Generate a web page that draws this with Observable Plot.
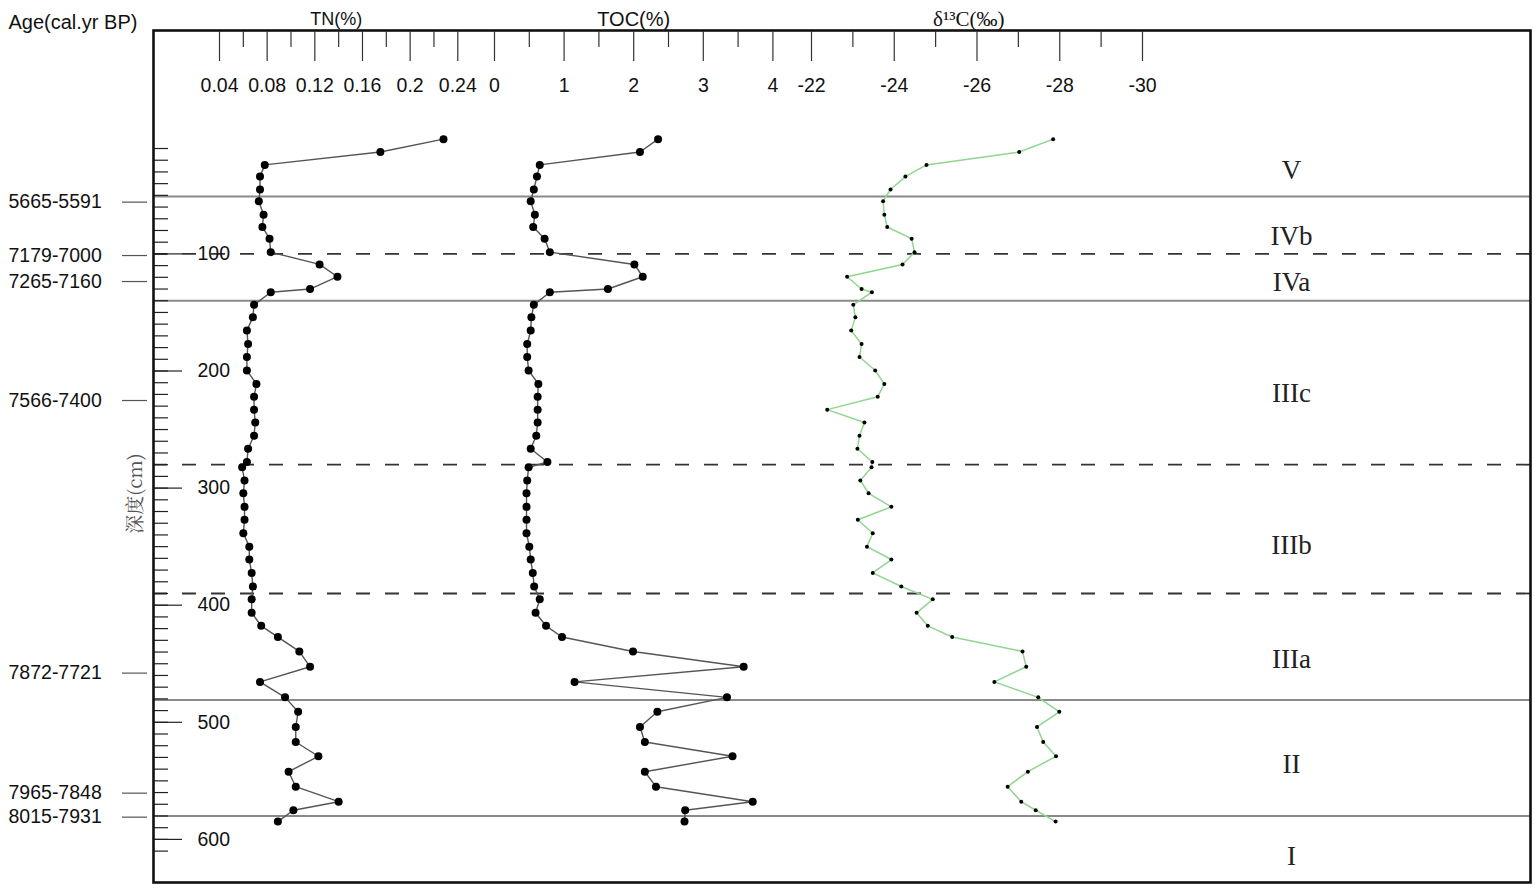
<!DOCTYPE html>
<html>
<head>
<meta charset="utf-8">
<script src="https://cdn.jsdelivr.net/npm/d3@7"></script>
<script src="https://cdn.jsdelivr.net/npm/@observablehq/plot@0.6"></script>
<style>
  html, body { margin: 0; padding: 0; background: #fff; }
  #chart { position: relative; width: 1535px; height: 891px; }
  #chart svg { position: absolute; left: 0; top: 0; overflow: visible; }
</style>
</head>
<body>
<div id="chart"></div>
<script>
// ---------- data ----------
const depth = [2,13,24,34,45,55,66.5,77,87,98.5,109,119.5,130,132.7,143.5,154,165.5,177,188,199.6,211,222,233,244,255.3,266.4,277.7,282.3,293.5,304.5,316,327,338.5,350,361,372.4,384,395,406.5,417.6,427.2,439.5,452.6,465.5,478.7,491,504,516.8,529,542.2,555,567.8,575.1,584.8];
const tn = [0.228,0.175,0.078,0.074,0.074,0.073,0.077,0.076,0.082,0.083,0.124,0.139,0.116,0.083,0.069,0.068,0.063,0.064,0.063,0.063,0.071,0.069,0.069,0.070,0.069,0.064,0.063,0.059,0.061,0.060,0.061,0.061,0.060,0.065,0.065,0.067,0.068,0.067,0.067,0.075,0.089,0.107,0.116,0.074,0.095,0.106,0.104,0.104,0.123,0.098,0.104,0.140,0.102,0.089];
const toc = [2.35,2.09,0.65,0.61,0.565,0.52,0.58,0.556,0.72,0.795,2.01,2.13,1.63,0.795,0.565,0.53,0.52,0.47,0.47,0.49,0.63,0.62,0.62,0.62,0.60,0.52,0.76,0.49,0.47,0.46,0.46,0.46,0.46,0.50,0.52,0.55,0.57,0.65,0.59,0.74,0.97,1.99,3.58,1.15,3.34,2.34,2.09,2.16,3.42,2.16,2.32,3.71,2.74,2.73];
const d13c = [-27.84,-27.02,-24.78,-24.27,-23.91,-23.73,-23.76,-23.83,-24.42,-24.49,-24.20,-22.86,-23.21,-23.46,-23.01,-23.06,-22.96,-23.21,-23.16,-23.54,-23.76,-23.60,-22.38,-23.28,-23.16,-23.11,-23.47,-23.45,-23.18,-23.38,-23.93,-23.12,-23.48,-23.34,-23.93,-23.48,-24.17,-24.93,-24.54,-24.81,-25.40,-27.10,-27.19,-26.42,-27.48,-27.99,-27.45,-27.60,-27.91,-27.23,-26.74,-27.07,-27.42,-27.90];

const tnTicks = [0.04,0.08,0.12,0.16,0.2,0.24];
const tnMinor = [0.06,0.10,0.14,0.18,0.22];
const tocTicks = [0,1,2,3,4];
const tocMinor = [0.5,1.5,2.5,3.5];
const d13cTicks = [-22,-24,-26,-28,-30];
const d13cMinor = [-23,-25,-27,-29];

const depthLabels = [100,200,300,400,500,600];
const depthMinor = d3.range(10, 620, 10);

const ageLabels = ["5665-5591","7179-7000","7265-7160","7566-7400","7872-7721","7965-7848","8015-7931"];
const ageDepths = [55.8,101.4,123.6,225.2,458,560.5,581];

const boundaryDepths = [51,100,140,280,390,481,580];
const boundaryTypes = ["solid","dashed","solid","dashed","dashed","solid","solid"];

const zoneLabels = ["V","IVb","IVa","IIIc","IIIb","IIIa","II","I"];
const zoneDepths = [28.8,85.1,124.4,219.2,349,446.4,536,614.6];

// ---------- tables ----------
const rows = depth.map((d, i) => ({depth: d, tn: tn[i], toc: toc[i], d13c: d13c[i]}));
const ages = ageLabels.map((l, i) => ({label: l, depth: ageDepths[i]}));
const bounds = boundaryDepths.map((d, i) => ({depth: d, type: boundaryTypes[i]}));
const zones = zoneLabels.map((l, i) => ({label: l, depth: zoneDepths[i]}));

// ---------- layout ----------
const W = 1535, H = 891;
const layout = {width: W, height: H, marginTop: 30, marginLeft: 153, marginRight: 5, marginBottom: 9};
const yScale = {domain: [0, 600], range: [136.3, 838.9]};
const sans = "Liberation Sans, Arial, sans-serif";
const serif = "Liberation Serif, Times New Roman, serif";
const root = document.getElementById("chart");

function add(p) { root.appendChild(p); }

// base: frame, boundaries, depth axis, ages, zones
add(Plot.plot({
  ...layout,
  y: yScale,
  style: {background: "transparent", fontFamily: sans, color: "#111", overflow: "visible"},
  marks: [
    Plot.ruleY(bounds.filter(b => b.type === "solid"), {y: "depth", stroke: "#8a8a8a", strokeWidth: 2}),
    Plot.ruleY(bounds.filter(b => b.type === "dashed"), {y: "depth", stroke: "#333", strokeWidth: 1.8, strokeDasharray: "14,15"}),
    Plot.axisY(depthMinor, {anchor: "left", tickSize: 15, dx: 15, fill: "none", label: null, stroke: "#222", strokeWidth: 1.2}),
    Plot.axisY(depthLabels, {anchor: "left", tickSize: 29, dx: 29, fill: "none", label: null, stroke: "#222", strokeWidth: 1.2}),
    Plot.text(depthLabels, {y: d => d, text: d => String(d), frameAnchor: "left", dx: 44, textAnchor: "start", lineAnchor: "middle", fontSize: 19.5, fill: "#111"}),
    Plot.axisY(ageDepths, {anchor: "left", tickSize: 25, dx: -6, fill: "none", label: null, stroke: "#555", strokeWidth: 1.2}),
    Plot.text(ages, {y: "depth", text: "label", frameAnchor: "left", dx: -145, textAnchor: "start", lineAnchor: "middle", fontSize: 19.5, fill: "#111"}),
    Plot.text(["Age(cal.yr BP)"], {frameAnchor: "top-left", dx: -145, dy: -8, textAnchor: "start", lineAnchor: "middle", fontSize: 20, fill: "#111"}),
    Plot.text(["深度(cm)"], {frameAnchor: "left", dx: -18, dy: 37, rotate: -90, textAnchor: "middle", lineAnchor: "middle", fontSize: 19, fill: "#555", fontFamily: "Noto Serif CJK SC, Noto Sans CJK SC, serif"}),
    Plot.text(zones, {y: "depth", text: "label", frameAnchor: "left", dx: 1138, textAnchor: "middle", lineAnchor: "middle", fontSize: 27, fontFamily: serif, fill: "#222"}),
    Plot.frame({stroke: "#111", strokeWidth: 2.6})
  ]
}));

function panel({x, major, minor, title, titleX, titleFont, titleSize, marks}) {
  return Plot.plot({
    ...layout,
    x,
    y: {...yScale, axis: null},
    style: {background: "transparent", fontFamily: sans, color: "#111", overflow: "visible"},
    marks: [
      Plot.axisX(major, {anchor: "top", tickSize: 30, dy: 30, fill: "none", label: null, stroke: "#333", strokeWidth: 1.2}),
      Plot.axisX(minor, {anchor: "top", tickSize: 16, dy: 16, fill: "none", label: null, stroke: "#333", strokeWidth: 1.2}),
      Plot.text(major, {x: d => d, text: d => String(d), frameAnchor: "top", dy: 55, lineAnchor: "middle", fontSize: 19.5, fill: "#111"}),
      Plot.text([title], {x: [titleX], frameAnchor: "top", dy: -11, lineAnchor: "middle", fontSize: titleSize, fontFamily: titleFont, fill: "#111"}),
      ...marks
    ]
  });
}

// TN
add(panel({
  x: {domain: [0.04, 0.24], range: [219, 457.3]},
  major: tnTicks, minor: tnMinor,
  title: "TN(%)", titleX: 0.138, titleFont: sans, titleSize: 18,
  marks: [
    Plot.line(rows, {x: "tn", y: "depth", stroke: "#555", strokeWidth: 1.4}),
    Plot.dot(rows, {x: "tn", y: "depth", r: 4, fill: "#000", stroke: "none"})
  ]
}));

// TOC
add(panel({
  x: {domain: [0, 4], range: [494, 772.4]},
  major: tocTicks, minor: tocMinor,
  title: "TOC(%)", titleX: 2, titleFont: sans, titleSize: 20,
  marks: [
    Plot.line(rows, {x: "toc", y: "depth", stroke: "#555", strokeWidth: 1.4}),
    Plot.dot(rows, {x: "toc", y: "depth", r: 4, fill: "#000", stroke: "none"})
  ]
}));

// d13C
add(panel({
  x: {domain: [-22, -30], range: [811, 1142]},
  major: d13cTicks, minor: d13cMinor,
  title: "δ¹³C(‰)", titleX: -25.8, titleFont: serif, titleSize: 21,
  marks: [
    Plot.line(rows, {x: "d13c", y: "depth", stroke: "#8fd68f", strokeWidth: 1.5}),
    Plot.dot(rows, {x: "d13c", y: "depth", r: 2, fill: "#000", stroke: "none"})
  ]
}));
</script>
</body>
</html>
